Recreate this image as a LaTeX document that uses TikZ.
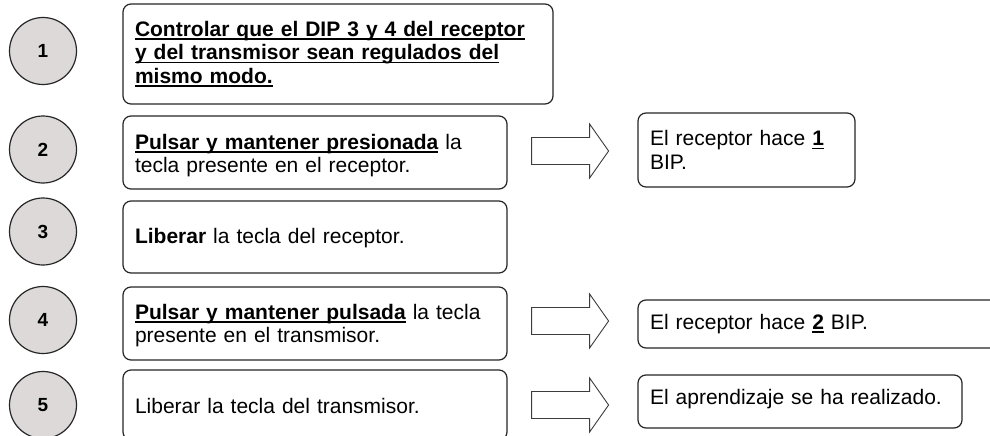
\documentclass[tikz,border=0pt]{standalone}
\usepackage{fontspec}
\setmainfont{Liberation Sans}
\usetikzlibrary{calc}
\newcommand{\ulx}[1]{\setbox0\hbox{#1}\leavevmode\rlap{\rule[-3.6pt]{\wd0}{1.8pt}}\box0}
\definecolor{linec}{RGB}{38,38,38}
\definecolor{numfill}{RGB}{221,217,217}
\definecolor{arrowc}{RGB}{60,60,60}
\newcommand{\blockarrow}[1]{%
  \draw[arrowline] ($(#1)+(0,-13.5)$) -- ++(58,0) -- ++(0,-13.5)
    -- ($(#1)+(77,0)$) -- ($(#1)+(58,27)$) -- ++(0,-13.5)
    -- ($(#1)+(0,13.5)$) -- cycle;}
\begin{document}
\begin{tikzpicture}[x=1pt,y=-1pt,
  num/.style={circle, draw=linec, line width=1.2pt, fill=numfill,
    minimum size=67pt, inner sep=0pt, font=\fontsize{19}{21}\selectfont\bfseries},
  stepbox/.style={draw=linec, line width=1.2pt, rounded corners=8pt, inner sep=0pt},
  txt/.style={align=left, inner sep=0pt, text width=#1,
    font=\fontsize{21}{23.5}\selectfont},
  arrowline/.style={draw=arrowc, line width=0.9pt, fill=white}]
\useasboundingbox (0,0) rectangle (990,436);
\clip (0,0) rectangle (990,436);
\fill[white] (0,0) rectangle (990,436);
% numbers
\node[num] (n1) at (43,51) {1};
\node[num] (n2) at (43,149.5) {2};
\node[num] (n3) at (43,231.5) {3};
\node[num] (n4) at (43,320) {4};
\node[num] (n5) at (43,405) {5};
% step boxes
\node[stepbox, minimum width=430pt, minimum height=100pt] (b1) at (338,54) {};
\node[stepbox, minimum width=384pt, minimum height=73pt] (b2) at (315,152.5) {};
\node[stepbox, minimum width=384pt, minimum height=72pt] (b3) at (315,237) {};
\node[stepbox, minimum width=384pt, minimum height=73pt] (b4) at (315,323.5) {};
\node[stepbox, minimum width=384pt, minimum height=70pt] (b5) at (315,405) {};
% result boxes
\node[stepbox, minimum width=217pt, minimum height=74pt] (r1) at (746.5,150) {};
\node[stepbox, minimum width=362pt, minimum height=48pt] (r2) at (819,324) {};
\node[stepbox, minimum width=324pt, minimum height=53pt] (r3) at (800,401.5) {};
% texts
\node[txt=406pt] (t1) at ($(b1.center)+(0,0)$)
  {\bfseries\ulx{Controlar que el DIP 3 y 4 del receptor}\\
   \bfseries\ulx{y del transmisor sean regulados del}\\
   \bfseries\ulx{mismo modo.}};
\node[txt=360pt] (t2) at ($(b2.center)+(0,3)$)
  {\textbf{\ulx{Pulsar y mantener presionada}} la\\tecla presente en el receptor.};
\node[txt=360pt] (t3) at ($(b3.center)+(0,1)$)
  {\textbf{Liberar} la tecla del receptor.};
\node[txt=360pt] (t4) at ($(b4.center)+(0,2)$)
  {\textbf{\ulx{Pulsar y mantener pulsada}} la tecla\\presente en el transmisor.};
\node[txt=360pt] (t5) at ($(b5.center)+(0,1)$)
  {Liberar la tecla del transmisor.};
\node[txt=193pt] (t6) at ($(r1.center)+(0,0)$)
  {El receptor hace \textbf{\ulx{1}}\\BIP.};
\node[txt=338pt] (t7) at ($(r2.center)+(0,0)$)
  {El receptor hace \textbf{\ulx{2}} BIP.};
\node[txt=300pt] (t8) at ($(r3.center)+(0,-2)$)
  {El aprendizaje se ha realizado.};
% arrows
\coordinate (a2) at ($(b2.east)+(24,-1.5)$);
\coordinate (a4) at ($(b4.east)+(24,-2.5)$);
\coordinate (a5) at ($(b5.east)+(24,0)$);
\blockarrow{a2}
\blockarrow{a4}
\blockarrow{a5}
\end{tikzpicture}
\end{document}
